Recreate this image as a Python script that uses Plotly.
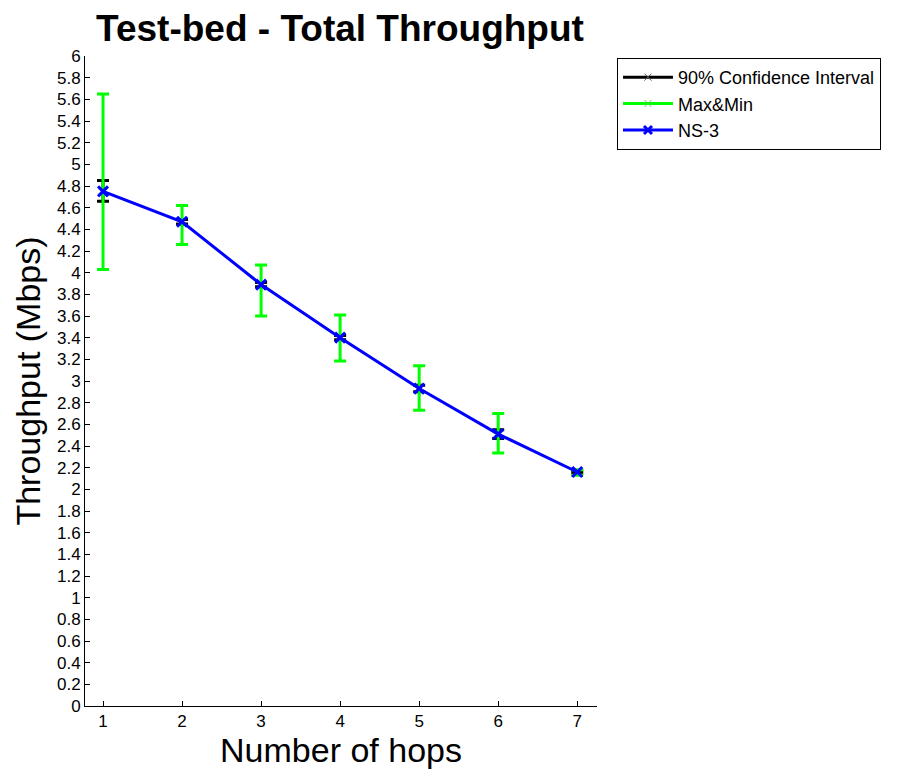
import plotly.graph_objects as go

hops = [1, 2, 3, 4, 5, 6, 7]
ns3 = [4.75, 4.47, 3.89, 3.40, 2.93, 2.51, 2.16]
testbed_mean = [4.755, 4.47, 3.89, 3.40, 2.93, 2.51, 2.16]
ci_upper = [4.85, 4.49, 3.91, 3.42, 2.96, 2.55, 2.17]
ci_lower = [4.66, 4.45, 3.87, 3.38, 2.90, 2.47, 2.15]
max_vals = [5.65, 4.62, 4.07, 3.61, 3.14, 2.70, 2.18]
min_vals = [4.03, 4.26, 3.60, 3.185, 2.73, 2.335, 2.13]

ci_plus = [u - m for u, m in zip(ci_upper, testbed_mean)]
ci_minus = [m - l for m, l in zip(testbed_mean, ci_lower)]
mm_plus = [u - m for u, m in zip(max_vals, testbed_mean)]
mm_minus = [m - l for m, l in zip(testbed_mean, min_vals)]

fig = go.Figure()

fig.add_trace(go.Scatter(
    x=hops, y=testbed_mean, mode="markers", showlegend=False,
    marker=dict(symbol="x-thin", size=8, color="black", line=dict(width=1.5, color="black")),
    error_y=dict(type="data", array=ci_plus, arrayminus=ci_minus, color="black", thickness=3, width=6),
))
fig.add_trace(go.Scatter(
    x=hops, y=testbed_mean, mode="markers", showlegend=False,
    marker=dict(symbol="x-thin", size=8, color="#00ff00", line=dict(width=1.5, color="#00ff00")),
    error_y=dict(type="data", array=mm_plus, arrayminus=mm_minus, color="#00ff00", thickness=3, width=6),
))
fig.add_trace(go.Scatter(
    x=hops, y=ns3, mode="lines+markers", showlegend=False,
    line=dict(color="#0000ff", width=3),
    marker=dict(symbol="x-thin", size=10, color="#0000ff", line=dict(width=3, color="#0000ff")),
))

# legend entries
fig.add_trace(go.Scatter(
    x=[None], y=[None], mode="lines+markers", name="90% Confidence Interval",
    line=dict(color="black", width=3),
    marker=dict(symbol="x-thin", size=7, color="black", line=dict(width=1, color="#555555")),
))
fig.add_trace(go.Scatter(
    x=[None], y=[None], mode="lines+markers", name="Max&Min",
    line=dict(color="#00ff00", width=3),
    marker=dict(symbol="x-thin", size=7, color="#00ff00", line=dict(width=1, color="#55cc55")),
))
fig.add_trace(go.Scatter(
    x=[None], y=[None], mode="lines+markers", name="NS-3",
    line=dict(color="#0000ff", width=3),
    marker=dict(symbol="x-thin", size=8, color="#0000ff", line=dict(width=3, color="#0000ff")),
))

fig.update_layout(
    width=905, height=769,
    margin=dict(l=85, r=308, t=56, b=63),
    paper_bgcolor="white", plot_bgcolor="white",
    font=dict(family="Liberation Sans, Arial, sans-serif", color="black"),
    title=dict(text="<b>Test-bed - Total Throughput</b>", x=340 / 905, xanchor="center",
               y=1 - 28 / 769, yanchor="middle", font=dict(size=37, color="black")),
    legend=dict(x=1.039, y=0.997, xanchor="left", yanchor="top",
                bordercolor="black", borderwidth=1, bgcolor="white",
                font=dict(size=18, color="black"), tracegroupgap=0, itemwidth=50),
    showlegend=True,
)
fig.update_xaxes(
    range=[0.772, 7.25], tickmode="array", tickvals=hops, ticktext=[str(h) for h in hops],
    ticks="inside", ticklen=5, tickcolor="black", showline=True, linecolor="black", linewidth=1,
    showgrid=False, zeroline=False, tickfont=dict(size=17, color="black"), automargin=False,
    title=dict(text="Number of hops", font=dict(size=34, color="black"), standoff=6),
)
fig.update_yaxes(
    range=[0, 6], dtick=0.2, tick0=0,
    ticks="inside", ticklen=5, tickcolor="black", showline=True, linecolor="black", linewidth=1,
    showgrid=False, zeroline=False, tickfont=dict(size=17, color="black"), automargin=False,
    title=dict(text="Throughput (Mbps)", font=dict(size=34, color="black"), standoff=6),
)

fig.write_html("out.html")
